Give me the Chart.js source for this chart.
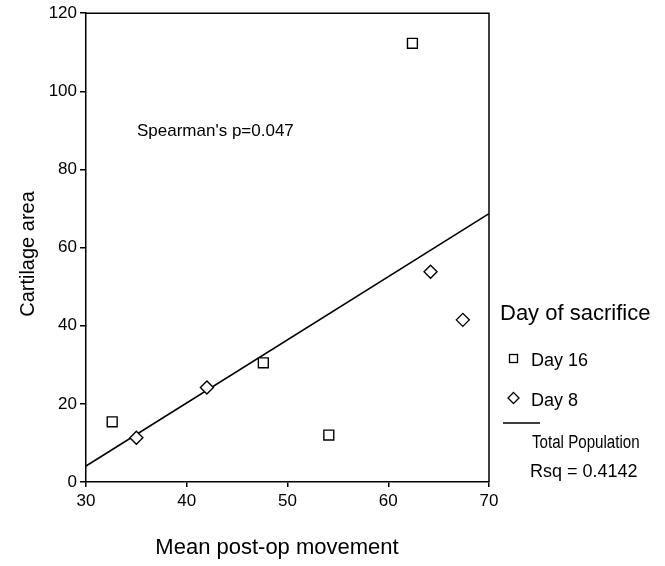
<!DOCTYPE html>
<html>
<head>
<meta charset="utf-8">
<style>
  html, body { margin: 0; padding: 0; background: #fff; }
  #wrap { width: 665px; height: 566px; }
</style>
<script src="https://cdn.jsdelivr.net/npm/chart.js@4/dist/chart.umd.min.js"></script>
</head>
<body>
<div id="wrap"><canvas id="chart" width="665" height="566"></canvas></div>
<script>
// values
const day16X = [32.6, 47.6, 54.1, 62.4];
const day16Y = [15.4, 30.5, 12.0, 112.3];
const day8X = [35.0, 42.0, 64.2, 67.4];
const day8Y = [11.3, 24.2, 53.8, 41.5];
const fitX = [30, 70];
const fitY = [4.1, 68.7];
const xTicks = [30, 40, 50, 60, 70];
const yTicks = [0, 20, 40, 60, 80, 100, 120];

const FONT = '"Liberation Sans", Arial, sans-serif';

const toPoints = (xs, ys) => xs.map((x, i) => ({ x: x, y: ys[i] }));

// box lines, annotation and the right-hand legend
const extras = {
    id: 'extras',
    afterDraw(chart) {
        const ctx = chart.ctx;
        const a = chart.chartArea;
        ctx.save();
        ctx.strokeStyle = '#000';
        ctx.lineWidth = 1.5;
        ctx.beginPath();
        ctx.moveTo(a.left, a.top);
        ctx.lineTo(a.right, a.top);
        ctx.lineTo(a.right, a.bottom);
        ctx.stroke();

        ctx.fillStyle = '#000';
        ctx.textBaseline = 'middle';
        ctx.textAlign = 'left';
        ctx.font = '17px ' + FONT;
        ctx.fillText("Spearman's p=0.047", 137, 131);

        ctx.textAlign = 'center';
        ctx.font = '22px ' + FONT;
        ctx.fillText('Mean post-op movement', 277, 548);

        ctx.save();
        ctx.translate(28, 254);
        ctx.rotate(-Math.PI / 2);
        ctx.font = '20px ' + FONT;
        ctx.fillText('Cartilage area', 0, 0);
        ctx.restore();

        // legend
        ctx.textAlign = 'left';
        ctx.font = '22px ' + FONT;
        ctx.fillText('Day of sacrifice', 500, 314);

        ctx.lineWidth = 1.3;
        ctx.strokeRect(509.5, 354.5, 8, 8);
        ctx.beginPath();
        ctx.moveTo(513.5, 392.5);
        ctx.lineTo(519, 398);
        ctx.lineTo(513.5, 403.5);
        ctx.lineTo(508, 398);
        ctx.closePath();
        ctx.stroke();

        ctx.font = '18px ' + FONT;
        ctx.fillText('Day 16', 531, 361);
        ctx.fillText('Day 8', 531, 401);

        ctx.lineWidth = 1.5;
        ctx.beginPath();
        ctx.moveTo(503, 423);
        ctx.lineTo(540, 423);
        ctx.stroke();

        // narrow face in the original, squeezed horizontally here
        ctx.save();
        ctx.translate(532, 443);
        ctx.scale(0.84, 1);
        ctx.fillText('Total Population', 0, 0);
        ctx.restore();
        ctx.fillText('Rsq = 0.4142', 530, 472);
        ctx.restore();
    }
};

new Chart(document.getElementById('chart').getContext('2d'), {
    type: 'scatter',
    data: {
        datasets: [
            {
                label: 'Day 16',
                data: toPoints(day16X, day16Y),
                pointStyle: 'rect',
                pointRadius: 7,
                borderColor: '#000',
                backgroundColor: '#fff',
                borderWidth: 1.4,
                order: 1
            },
            {
                label: 'Day 8',
                data: toPoints(day8X, day8Y),
                pointStyle: 'rectRot',
                pointRadius: 6.5,
                borderColor: '#000',
                backgroundColor: '#fff',
                borderWidth: 1.4,
                order: 1
            },
            {
                label: 'Total Population',
                type: 'line',
                data: toPoints(fitX, fitY),
                borderColor: '#000',
                borderWidth: 1.6,
                pointRadius: 0,
                fill: false,
                order: 2
            }
        ]
    },
    options: {
        responsive: false,
        animation: false,
        layout: { padding: { top: 13, right: 176, left: 0, bottom: 0 } },
        plugins: {
            legend: { display: false },
            tooltip: { enabled: false }
        },
        scales: {
            x: {
                type: 'linear',
                min: 30,
                max: 70,
                afterFit: (s) => { s.height = 84; },
                afterBuildTicks: (s) => { s.ticks = xTicks.map(v => ({ value: v })); },
                grid: { drawOnChartArea: false, drawTicks: true, tickLength: 5, color: '#000', lineWidth: 1.5 },
                border: { display: true, color: '#000', width: 1.5 },
                ticks: { color: '#000', padding: 4, font: { family: FONT, size: 17 } }
            },
            y: {
                type: 'linear',
                min: 0,
                max: 120,
                afterFit: (s) => { s.width = 86; },
                afterBuildTicks: (s) => { s.ticks = yTicks.map(v => ({ value: v })); },
                grid: { drawOnChartArea: false, drawTicks: true, tickLength: 6, color: '#000', lineWidth: 1.5 },
                border: { display: true, color: '#000', width: 1.5 },
                ticks: { color: '#000', padding: 3, font: { family: FONT, size: 17 } }
            }
        }
    },
    plugins: [extras]
});
</script>
</body>
</html>
